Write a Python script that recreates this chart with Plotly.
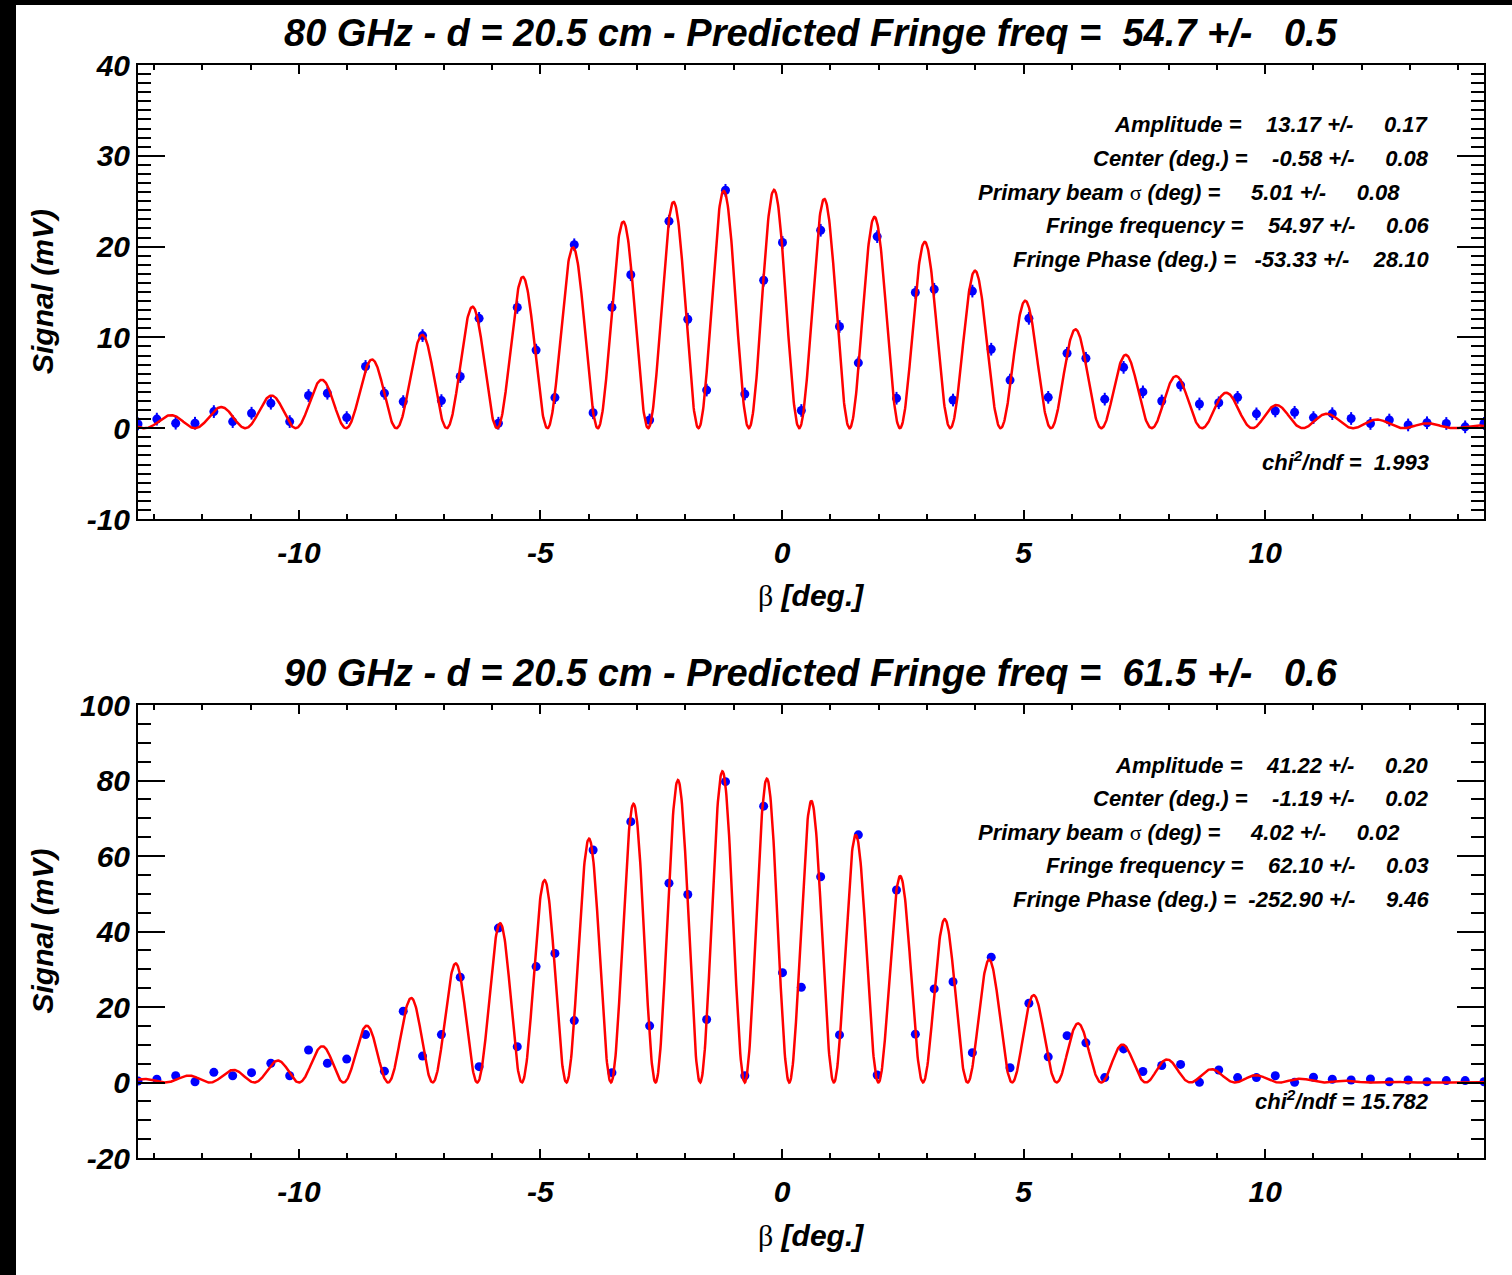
import numpy as np
import plotly.graph_objects as go

# scan positions in beta (deg), same grid for both scans
beta = [-13.33, -12.94, -12.55, -12.15, -11.76, -11.37, -10.98, -10.58, -10.19, -9.80,
        -9.41, -9.01, -8.62, -8.23, -7.84, -7.44, -7.05, -6.66, -6.27, -5.87,
        -5.48, -5.09, -4.70, -4.30, -3.91, -3.52, -3.13, -2.74, -2.34, -1.95,
        -1.56, -1.17, -0.77, -0.38, 0.01, 0.40, 0.80, 1.19, 1.58, 1.97,
        2.37, 2.76, 3.15, 3.54, 3.94, 4.33, 4.72, 5.11, 5.51, 5.90,
        6.29, 6.68, 7.07, 7.47, 7.86, 8.25, 8.64, 9.04, 9.43, 9.82,
        10.21, 10.61, 11.00, 11.39, 11.78, 12.18, 12.57, 12.96, 13.35, 13.75,
        14.14, 14.53]

# 80 GHz measured signal (mV)
sig80 = [0.47, 1.0, 0.55, 0.55, 1.83, 0.73, 1.65, 2.75, 0.73, 3.6,
         3.85, 1.17, 6.8, 3.85, 2.93, 10.2, 3.04, 5.69, 12.1, 0.55,
         13.3, 8.6, 3.37, 20.2, 1.7, 13.3, 16.9, 0.9, 22.8, 12.0,
         4.2, 26.2, 3.77, 16.3, 20.45, 1.95, 21.8, 11.2, 7.2, 21.1,
         3.3, 14.95, 15.3, 3.1, 15.1, 8.7, 5.3, 12.1, 3.4, 8.25,
         7.7, 3.2, 6.7, 4.0, 3.0, 4.75, 2.67, 2.8, 3.4, 1.58,
         1.9, 1.75, 1.17, 1.6, 1.07, 0.52, 0.9, 0.36, 0.6, 0.52,
         0.15, 0.52]
err80 = [0.7] * len(sig80)  # error bars look uniform

# 90 GHz measured signal (mV)
sig90 = [0.4, 0.85, 1.8, 0.2, 2.7, 1.8, 2.6, 5.1, 1.8, 8.6,
         5.1, 6.2, 12.7, 3.0, 18.9, 7.0, 12.7, 27.9, 4.2, 40.9,
         9.5, 30.7, 34.2, 16.4, 61.6, 2.6, 69.1, 15.0, 52.8, 49.8,
         16.7, 79.7, 1.8, 73.2, 29.1, 25.2, 54.5, 12.6, 65.6, 2.0,
         51.0, 12.8, 24.8, 26.7, 7.9, 33.2, 3.9, 21.0, 6.8, 12.4,
         10.5, 1.3, 8.9, 2.9, 4.5, 4.8, 0.05, 3.3, 1.3, 1.3,
         1.8, 0.05, 1.4, 0.85, 0.66, 0.93, 0.2, 0.66, 0.2, 0.5,
         0.5, 0.2]

# fit results printed on the plots
ghz = [80, 90]
dist_cm = 20.5
pred_freq = [54.7, 61.5]
pred_err = [0.5, 0.6]
amp = [13.17, 41.22]
amp_err = [0.17, 0.20]
center = [-0.58, -1.19]
center_err = [0.08, 0.02]
sigma = [5.01, 4.02]
sigma_err = [0.08, 0.02]
ffreq = [54.97, 62.10]
ffreq_err = [0.06, 0.03]
fphase = [-53.33, -252.90]
fphase_err = [28.10, 9.46]
chi2 = [1.993, 15.782]

# axes
xticks = [-10, -5, 0, 5, 10]
xticklabels = ["-10", "-5", "0", "5", "10"]
yranges = [[-10, 40], [-20, 100]]
yticks = [[-10, 0, 10, 20, 30, 40], [-20, 0, 20, 40, 60, 80, 100]]
yticklabels = [["-10", "0", "10", "20", "30", "40"],
               ["-20", "0", "20", "40", "60", "80", "100"]]
yminor = [1, 5]

W, H = 1512, 1275
L, R = 138, 1484
panels = [(65, 519), (705, 1158)]  # pixel top/bottom of each frame

FONT = "Liberation Sans, Arial, Helvetica, sans-serif"
SERIF = "Liberation Serif"


def fx(p):
    return (p - L) / (R - L)


def fy(p):
    return 1 - p / H


def nb(s):
    return s.replace(" ", "\u00a0")


def fit_curve(i, b):
    # gaussian primary beam times fringe pattern
    d = b - center[i]
    env = amp[i] * np.exp(-d ** 2 / (2 * sigma[i] ** 2))
    return env * (1 + np.sin(2 * np.pi * ffreq[i] * np.radians(d) + np.radians(fphase[i])))


fig = go.Figure()
bfine = np.linspace(beta[0], beta[-1], 3000)

for i, sig in enumerate([sig80, sig90]):
    xa = "x" if i == 0 else "x2"
    ya = "y" if i == 0 else "y2"
    kw = dict(error_y=dict(type="data", array=err80, color="blue", thickness=2, width=0)) if i == 0 else {}
    fig.add_trace(go.Scatter(x=beta, y=sig, mode="markers", xaxis=xa, yaxis=ya,
                             marker=dict(color="blue", size=9), showlegend=False, **kw))
    fig.add_trace(go.Scatter(x=bfine, y=fit_curve(i, bfine), mode="lines", xaxis=xa, yaxis=ya,
                             line=dict(color="red", width=2.5), showlegend=False))

tickfont = dict(family=FONT, size=30, color="black", weight="bold", style="italic")
axis_common = dict(showline=True, linewidth=2, linecolor="black", mirror="allticks",
                   ticks="inside", tickwidth=2, tickcolor="black", showgrid=False,
                   zeroline=False, tickfont=tickfont, automargin=False)

for i in range(2):
    top, bot = panels[i]
    sfx = "" if i == 0 else "2"
    fig.update_layout(**{
        "xaxis" + sfx: dict(axis_common, domain=[0, 1], anchor="y" + sfx,
                            range=[beta[0], beta[-1]], tickvals=xticks, ticktext=xticklabels,
                            ticklen=9, ticklabelstandoff=6,
                            minor=dict(dtick=1, tick0=0, ticks="inside", ticklen=5, tickwidth=2,
                                       tickcolor="black", showgrid=False)),
        "yaxis" + sfx: dict(axis_common, domain=[fy(bot), fy(top)], anchor="x" + sfx,
                            range=yranges[i], tickvals=yticks[i], ticktext=yticklabels[i],
                            ticklen=27, ticklabelstandoff=0,
                            minor=dict(dtick=yminor[i], tick0=0, ticks="inside", ticklen=13,
                                       tickwidth=2, tickcolor="black", showgrid=False)),
    })

ann = []
big = dict(family=FONT, size=38, color="black", weight="bold", style="italic")
lab = dict(family=FONT, size=30, color="black", weight="bold", style="italic")
small = dict(family=FONT, size=22, color="black", weight="bold", style="italic")
sig_sym = "<span style=\"font-family:'%s';font-weight:normal;font-style:normal\">σ</span>" % SERIF
beta_sym = "<span style=\"font-family:'%s';font-weight:normal;font-style:normal\">β</span>" % SERIF

for i in range(2):
    top, bot = panels[i]
    off = top - 65
    title = nb(f"{ghz[i]} GHz - d = {dist_cm} cm - Predicted Fringe freq = "
               f"{pred_freq[i]:5.1f} +/- {pred_err[i]:5.1f}")
    ann.append(dict(text=title, x=0.5, y=fy(33 + off), xanchor="center", yanchor="middle", font=big))
    ann.append(dict(text=nb("Signal (mV)"), x=fx(42), y=fy((top + bot) / 2), textangle=-90,
                    xanchor="center", yanchor="middle", font=lab))
    ann.append(dict(text=beta_sym + nb(" [deg.]"), x=0.5, y=fy(595 + off),
                    xanchor="center", yanchor="middle", font=lab))
    lines = [
        (nb(f"Amplitude = {amp[i]:8.2f} +/- {amp_err[i]:8.2f}"), 1431),
        (nb(f"Center (deg.) = {center[i]:8.2f} +/- {center_err[i]:8.2f}"), 1431),
        (nb("Primary beam ") + sig_sym + nb(f" (deg) = {sigma[i]:8.2f} +/- {sigma_err[i]:8.2f}"), 1402),
        (nb(f"Fringe frequency = {ffreq[i]:8.2f} +/- {ffreq_err[i]:8.2f}"), 1431),
        (nb(f"Fringe Phase (deg.) = {fphase[i]:8.2f} +/- {fphase_err[i]:8.2f}"), 1431),
    ]
    for j, (t, xr) in enumerate(lines):
        ann.append(dict(text=t, x=fx(xr), y=fy(125 + 33.6 * j + off), xanchor="right",
                        yanchor="middle", align="right", font=small))
    chi_y = 461 if i == 0 else 1100
    ann.append(dict(text=nb(f"chi<sup>2</sup>/ndf = {chi2[i]:6.3f}"), x=fx(1431), y=fy(chi_y),
                    xanchor="right", yanchor="middle", align="right", font=small))

for a in ann:
    a.update(xref="paper", yref="paper", showarrow=False)

fig.update_layout(
    width=W, height=H,
    margin=dict(l=L, r=W - R, t=0, b=0, pad=0, autoexpand=False),
    paper_bgcolor="black",
    plot_bgcolor="white",
    annotations=ann,
    shapes=[dict(type="rect", xref="paper", yref="paper", layer="below",
                 x0=fx(16), x1=fx(W), y0=0, y1=fy(5),
                 fillcolor="white", line=dict(width=0))],
    showlegend=False,
)

fig.write_html("out.html", config={"displayModeBar": False},
               post_script="document.body.style.margin='0';")
